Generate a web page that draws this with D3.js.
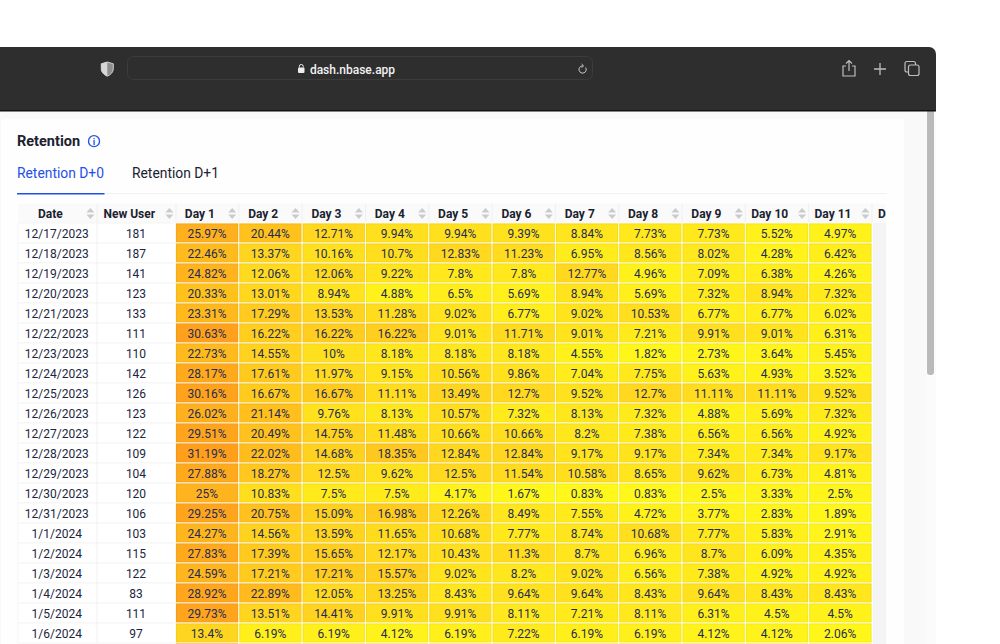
<!DOCTYPE html>
<html>
<head>
<meta charset="utf-8">
<script src="https://cdn.jsdelivr.net/npm/d3@7"></script>
<style>
  html, body { margin: 0; padding: 0; background: #fff; overflow: hidden; }
  text { font-family: Roboto, sans-serif; }
</style>
</head>
<body>
<div id="viz"></div>
<script>
const dayLabels = ['Day 1','Day 2','Day 3','Day 4','Day 5','Day 6','Day 7','Day 8','Day 9','Day 10','Day 11']

const dates = ['12/17/2023','12/18/2023','12/19/2023','12/20/2023','12/21/2023','12/22/2023','12/23/2023',
  '12/24/2023','12/25/2023','12/26/2023','12/27/2023','12/28/2023','12/29/2023','12/30/2023','12/31/2023',
  '1/1/2024','1/2/2024','1/3/2024','1/4/2024','1/5/2024','1/6/2024']

const newUsers = [181,187,141,123,133,111,110,142,126,123,122,109,104,120,106,103,115,122,83,111,97]

const retention = [
  [25.97,20.44,12.71,9.94,9.94,9.39,8.84,7.73,7.73,5.52,4.97],
  [22.46,13.37,10.16,10.7,12.83,11.23,6.95,8.56,8.02,4.28,6.42],
  [24.82,12.06,12.06,9.22,7.8,7.8,12.77,4.96,7.09,6.38,4.26],
  [20.33,13.01,8.94,4.88,6.5,5.69,8.94,5.69,7.32,8.94,7.32],
  [23.31,17.29,13.53,11.28,9.02,6.77,9.02,10.53,6.77,6.77,6.02],
  [30.63,16.22,16.22,16.22,9.01,11.71,9.01,7.21,9.91,9.01,6.31],
  [22.73,14.55,10,8.18,8.18,8.18,4.55,1.82,2.73,3.64,5.45],
  [28.17,17.61,11.97,9.15,10.56,9.86,7.04,7.75,5.63,4.93,3.52],
  [30.16,16.67,16.67,11.11,13.49,12.7,9.52,12.7,11.11,11.11,9.52],
  [26.02,21.14,9.76,8.13,10.57,7.32,8.13,7.32,4.88,5.69,7.32],
  [29.51,20.49,14.75,11.48,10.66,10.66,8.2,7.38,6.56,6.56,4.92],
  [31.19,22.02,14.68,18.35,12.84,12.84,9.17,9.17,7.34,7.34,9.17],
  [27.88,18.27,12.5,9.62,12.5,11.54,10.58,8.65,9.62,6.73,4.81],
  [25,10.83,7.5,7.5,4.17,1.67,0.83,0.83,2.5,3.33,2.5],
  [29.25,20.75,15.09,16.98,12.26,8.49,7.55,4.72,3.77,2.83,1.89],
  [24.27,14.56,13.59,11.65,10.68,7.77,8.74,10.68,7.77,5.83,2.91],
  [27.83,17.39,15.65,12.17,10.43,11.3,8.7,6.96,8.7,6.09,4.35],
  [24.59,17.21,17.21,15.57,9.02,8.2,9.02,6.56,7.38,4.92,4.92],
  [28.92,22.89,12.05,13.25,8.43,9.64,9.64,8.43,9.64,8.43,8.43],
  [29.73,13.51,14.41,9.91,9.91,8.11,7.21,8.11,6.31,4.5,4.5],
  [13.4,6.19,6.19,4.12,6.19,7.22,6.19,6.19,4.12,4.12,2.06]
]

// next row is cut by the bottom of the picture, only its colours show (estimates)
const cutRow = [30,12,11,10,9,9,8,8,8,7,6]

let width = 1000,
    height = 644

let svg = d3.select('#viz').append('svg')
  .attr('width', width)
  .attr('height', height)
  .style('display', 'block')

// page behind the card
svg.append('rect').attr('x', 0).attr('y', 111).attr('width', 926).attr('height', 533).style('fill', '#f9f9f9')
svg.append('rect').attr('x', 1).attr('y', 119).attr('width', 903).attr('height', 530).attr('rx', 4).style('fill', '#fefefe')
svg.append('rect').attr('x', 926).attr('y', 111).attr('width', 10).attr('height', 533).style('fill', '#fbfbfb')
svg.append('rect').attr('x', 927).attr('y', 100).attr('width', 7).attr('height', 275).attr('rx', 3).style('fill', '#bababa')

// browser window chrome
svg.append('path')
  .attr('d', 'M0 47H929a7 7 0 0 1 7 7V111H0Z')
  .style('fill', '#2e2e2e')
svg.append('rect').attr('x', 0).attr('y', 110).attr('width', 936).attr('height', 1.5).style('fill', '#111')
svg.append('rect').attr('x', 127.5).attr('y', 56.5).attr('width', 465).attr('height', 23).attr('rx', 6)
  .style('fill', '#2e2e2e').style('stroke', '#3c3c3c')
svg.append('text').attr('x', 352.5).attr('y', 73.5).attr('text-anchor', 'middle').attr('font-size', 12)
  .attr('font-weight', 500).style('fill', '#f2f2f2').text('dash.nbase.app')
svg.append('rect').attr('x', 298).attr('y', 67.5).attr('width', 6.5).attr('height', 5.5).attr('rx', 1).style('fill', '#eee')
svg.append('path').attr('d', 'M299.4 67.5v-1.2a1.9 1.9 0 0 1 3.8 0v1.2').style('fill', 'none').style('stroke', '#eee')

// shield
svg.append('path').attr('d', 'M107.3 62l6 1.8v5c0 3.3-2.6 6-6 7.4c-3.4-1.4-6-4.1-6-7.4v-5Z')
  .style('fill', '#8e8e8e').style('stroke', '#cfcfcf').style('stroke-width', 1)
svg.append('path').attr('d', 'M107.3 62v14.2c-3.4-1.4-6-4.1-6-7.4v-5Z').style('fill', '#d6d6d6')

// reload
svg.append('path').attr('d', 'M585.6 67.5a3.6 3.6 0 1 1 -3.2 -1.6').style('fill', 'none').style('stroke', '#ccc').style('stroke-width', 1)
svg.append('path').attr('d', 'M581.6 64l2 1.9l-2 1.6').style('fill', 'none').style('stroke', '#ccc').style('stroke-width', 1)

// share, plus, tabs
let iconStroke = '#bdbdbd'
svg.append('path').attr('d', 'M846 66h-3v10h12v-10h-3M849 71v-10M846 63.5l3-3l3 3').style('fill', 'none').style('stroke', iconStroke).style('stroke-width', 1.2)
svg.append('path').attr('d', 'M874 69h12M880 63v12').style('fill', 'none').style('stroke', iconStroke).style('stroke-width', 1.3)
svg.append('rect').attr('x', 905).attr('y', 61.5).attr('width', 10.5).attr('height', 10.5).attr('rx', 2).style('fill', '#2e2e2e').style('stroke', iconStroke).style('stroke-width', 1.2)
svg.append('rect').attr('x', 908.5).attr('y', 65).attr('width', 10.5).attr('height', 10.5).attr('rx', 2).style('fill', '#2e2e2e').style('stroke', iconStroke).style('stroke-width', 1.2)

// heading and tabs
svg.append('text').attr('x', 17).attr('y', 146).attr('font-size', 14.5).attr('font-weight', 700).style('fill', '#1b2230').text('Retention')
svg.append('circle').attr('cx', 94).attr('cy', 141.2).attr('r', 5.5).style('fill', 'none').style('stroke', '#1f50e8').style('stroke-width', 1.3)
svg.append('text').attr('x', 94).attr('y', 144.6).attr('text-anchor', 'middle').attr('font-size', 9).attr('font-weight', 700).style('fill', '#1f50e8').text('i')
svg.append('text').attr('x', 17).attr('y', 178).attr('font-size', 13.85).style('fill', '#1f50e8').text('Retention D+0')
svg.append('text').attr('x', 132).attr('y', 178).attr('font-size', 13.85).style('fill', '#1b2230').text('Retention D+1')
svg.append('rect').attr('x', 17).attr('y', 193).attr('width', 870).attr('height', 1).style('fill', '#f2f2f2')
svg.append('rect').attr('x', 17).attr('y', 193).attr('width', 87.5).attr('height', 1.5).style('fill', '#1f50e8')

// Scales
let dayScale = d3.scaleBand()
  .domain(dayLabels)
  .range([175.5, 872])

let rowScale = d3.scaleBand()
  .domain(dates)
  .range([223, 643])

let infoScale = d3.scaleBand()
  .domain(['Date', 'New User'])
  .range([18, 176])

let colorScale = d3.scaleLinear()
  .domain([0, 6, 10, 14, 21, 26, 31.19])
  .range(['#fff91a', '#fff01b', '#ffe01e', '#ffd41f', '#ffc01d', '#ffb01e', '#ff9f1c'])

let table = svg.append('g')
let headerTop = 203.5, headerH = 19.5

// header row
let headers = [...infoScale.domain().map(d => ({ name: d, x: infoScale(d), w: infoScale.bandwidth() })),
               ...dayLabels.map(d => ({ name: d, x: dayScale(d), w: dayScale.bandwidth() }))]

table.append('rect').attr('x', 18).attr('y', headerTop).attr('width', 868).attr('height', headerH)
  .attr('rx', 2).style('fill', '#fafafa')

let head = table.selectAll('g.head')
  .data(headers)
  .enter()
    .append('g')
    .attr('class', 'head')
    .attr('transform', d => `translate(${d.x},${headerTop})`)

head.append('text')
  .attr('x', d => d.w > 70 ? 32.3 : d.w / 2 - 7.3)
  .attr('y', 14)
  .attr('text-anchor', 'middle')
  .attr('font-size', 12)
  .attr('font-weight', 700)
  .style('fill', '#1b2230')
  .text(d => d.name)

head.append('path')
  .attr('transform', d => `translate(${d.w - 6.6},10)`)
  .attr('d', 'M-4 -1L0 -5.6L4 -1ZM-4 1L0 5.6L4 1Z')
  .style('fill', '#c9cbcf')

head.append('rect')
  .attr('x', d => d.w - 0.5).attr('y', 0).attr('width', 1).attr('height', headerH)
  .style('fill', '#f0f0f0')

// "Day 12" column is cut off by the table's scroll area
svg.append('clipPath').attr('id', 'cut').append('rect')
  .attr('x', 872).attr('y', headerTop).attr('width', 14).attr('height', 441)
table.append('text').attr('clip-path', 'url(#cut)').attr('x', 878).attr('y', headerTop + 14)
  .attr('font-size', 12).attr('font-weight', 700).style('fill', '#1b2230').text('Day 12')
table.append('rect').attr('x', 873).attr('y', 223).attr('width', 13).attr('height', 421).style('fill', '#f4f4f4')

// body rows
let rows = table.selectAll('g.row')
  .data(dates)
  .enter()
    .append('g')
    .attr('class', 'row')
    .attr('transform', d => `translate(0,${rowScale(d)})`)

rows.append('rect')
  .attr('x', 18).attr('width', 158).attr('height', rowScale.bandwidth())
  .style('fill', '#fff').style('stroke', '#f0f0f0').style('stroke-width', 0.7)

rows.append('line')
  .attr('x1', infoScale('New User')).attr('x2', infoScale('New User'))
  .attr('y1', 0).attr('y2', rowScale.bandwidth())
  .style('stroke', '#f0f0f0')

rows.append('text')
  .attr('x', infoScale('Date') + infoScale.bandwidth() / 2 - 0.7)
  .attr('y', 14.6)
  .attr('text-anchor', 'middle')
  .attr('font-size', 12)
  .style('fill', '#1b2640')
  .text(d => d)

rows.append('text')
  .attr('x', infoScale('New User') + infoScale.bandwidth() / 2 - 0.5)
  .attr('y', 14.6)
  .attr('text-anchor', 'middle')
  .attr('font-size', 12)
  .style('fill', '#1b2640')
  .text((d, i) => newUsers[i])

let cells = rows.selectAll('g.cell')
  .data((d, i) => retention[i].map((v, j) => ({ v: v, day: dayLabels[j] })))
  .enter()
    .append('g')
    .attr('class', 'cell')

cells.append('rect')
  .attr('x', d => dayScale(d.day))
  .attr('width', dayScale.bandwidth())
  .attr('height', rowScale.bandwidth())
  .style('fill', d => d3.color(colorScale(d.v)).darker(.12))
  .style('stroke', '#fff')
  .style('stroke-opacity', .8)
  .style('stroke-width', 1)

// slightly lighter middle, the cell edges look a bit darker in the picture
cells.append('rect')
  .attr('x', d => dayScale(d.day) + 1.5)
  .attr('y', 1.5)
  .attr('width', dayScale.bandwidth() - 3)
  .attr('height', rowScale.bandwidth() - 3)
  .style('fill', d => colorScale(d.v))

cells.append('text')
  .attr('x', d => dayScale(d.day) + dayScale.bandwidth() / 2 - 0.2)
  .attr('y', 14.6)
  .attr('text-anchor', 'middle')
  .attr('font-size', 12)
  .style('fill', '#1f2d50')
  .text(d => d.v + '%')

// sliver of the cut row
table.selectAll('rect.cut')
  .data(cutRow)
  .enter()
    .append('rect')
    .attr('class', 'cut')
    .attr('x', (d, i) => dayScale(dayLabels[i]))
    .attr('y', rowScale.range()[1])
    .attr('width', dayScale.bandwidth())
    .attr('height', rowScale.bandwidth())
    .style('fill', d => colorScale(d))
    .style('stroke', '#fff')
    .style('stroke-opacity', .8)
</script>
</body>
</html>
